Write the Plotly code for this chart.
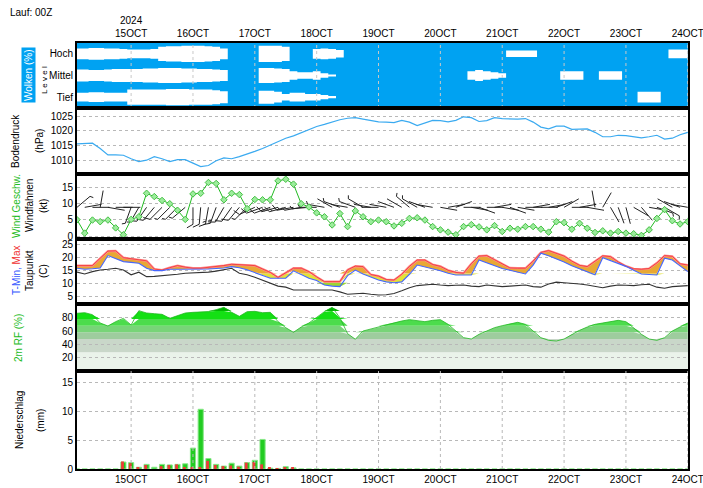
import numpy as np
import pandas as pd
import plotly.graph_objects as go

# ---------------- data ----------------
times = pd.date_range("2024-10-14 03:00", "2024-10-24 00:00", freq="3h")
day_ticks = pd.date_range("2024-10-15", "2024-10-24", freq="D")
day_names = ["15OCT", "16OCT", "17OCT", "18OCT", "19OCT", "20OCT", "21OCT", "22OCT", "23OCT", "24OCT"]
year_label = "2024"
run_label = "Lauf: 00Z"

# cloud cover (%) per layer
cloud_high = [50, 50, 45, 45, 50, 50, 55, 60, 60, 60,
              55, 35, 30, 30, 25, 25, 25, 30, 35, 50,
              100, 100, 100, 100, 25, 25, 25, 35, 100, 100,
              100, 55, 50, 55, 65, 100, 100, 100, 100, 100,
              100, 100, 100, 100, 100, 100, 100, 100, 100, 100,
              100, 100, 100, 100, 100, 100, 70, 70, 70, 70,
              100, 100, 100, 100, 100, 100, 100, 100, 100, 100,
              100, 100, 100, 100, 100, 100, 100, 60, 60, 60]
cloud_mid = [45, 45, 50, 50, 45, 40, 40, 40, 40, 35,
             35, 30, 30, 30, 35, 35, 40, 40, 45, 50,
             100, 100, 100, 100, 30, 30, 35, 40, 60, 70,
             70, 60, 80, 90, 100, 100, 100, 100, 100, 100,
             100, 100, 100, 100, 100, 100, 100, 100, 100, 100,
             100, 60, 50, 60, 70, 80, 100, 100, 100, 100,
             100, 100, 100, 60, 60, 60, 100, 100, 60, 60,
             60, 100, 100, 100, 100, 100, 100, 100, 100, 100]
cloud_low = [60, 60, 55, 55, 60, 60, 60, 30, 30, 30,
             30, 30, 25, 25, 25, 30, 30, 30, 35, 45,
             100, 100, 100, 100, 40, 40, 50, 70, 60, 60,
             70, 70, 80, 90, 100, 100, 100, 100, 100, 100,
             100, 100, 100, 100, 100, 100, 100, 100, 100, 100,
             100, 100, 100, 100, 100, 100, 100, 100, 100, 100,
             100, 100, 100, 100, 100, 100, 100, 100, 100, 100,
             100, 100, 100, 50, 50, 50, 100, 100, 100, 100]

pressure = [1015.6, 1015.6, 1015.8, 1014.0, 1011.8, 1011.8, 1011.7, 1010.5, 1009.5, 1010.0,
            1011.2, 1010.5, 1009.5, 1010.2, 1010.2, 1009.0, 1007.8, 1008.2, 1009.8, 1010.8,
            1010.5, 1011.2, 1012.0, 1013.0, 1014.0, 1015.2, 1016.5, 1017.5, 1018.3, 1019.3,
            1020.5, 1021.5, 1022.2, 1023.0, 1023.8, 1024.3, 1024.5, 1024.0, 1023.5, 1023.1,
            1023.0, 1022.8, 1023.6, 1023.0, 1021.8, 1022.8, 1023.6, 1023.5, 1023.1, 1023.6,
            1024.8, 1024.5, 1023.2, 1023.5, 1024.5, 1024.2, 1024.0, 1024.0, 1024.2, 1023.0,
            1021.3, 1020.7, 1021.6, 1021.6, 1020.5, 1020.5, 1020.7, 1019.5, 1018.0, 1018.0,
            1018.5, 1018.4, 1018.0, 1017.6, 1018.0, 1018.5, 1017.2, 1017.5, 1018.7, 1019.5]

wind_speed = [5.0, 0.9, 4.9, 4.4, 4.9, 2.5, 0.4, 5.1, 5.9, 13.1,
              12.1, 10.9, 9.9, 7.9, 5.1, 12.9, 13.1, 16.4, 16.1, 11.1,
              13.1, 12.7, 8.4, 11.2, 11.1, 11.1, 16.9, 17.4, 15.9, 9.9,
              8.9, 7.1, 5.9, 3.4, 6.9, 2.9, 7.7, 5.9, 4.4, 4.9,
              4.4, 3.1, 3.9, 5.4, 5.6, 4.9, 2.9, 1.9, 1.2, 0.4,
              2.9, 3.5, 2.8, 1.9, 3.2, 1.4, 2.4, 2.1, 2.9, 2.9,
              2.1, 1.2, 4.4, 4.1, 2.1, 3.9, 2.4, 1.1, 1.6, 0.9,
              1.4, 0.9, 0.7, 0.2, 1.9, 5.4, 8.1, 4.7, 3.7, 4.4]
wind_dir = [50, 80, 90, 10, 100, 90, 90, 200, 210, 215,
            220, 225, 225, 225, 230, 180, 185, 190, 200, 210,
            215, 220, 225, 245, 250, 250, 255, 255, 260, 260,
            265, 270, 280, 300, 290, 280, 290, 300, 280, 270,
            280, 290, 300, 310, 300, 290, 280, 100, 80, 70,
            90, 100, 110, 90, 80, 100, 110, 100, 90, 80,
            90, 80, 70, 60, 90, 80, 100, 350, 30, 150,
            160, 165, 120, 140, 100, 110, 120, 300, 290, 280]

t_max = [16.8, 16.8, 16.8, 19.6, 22.3, 22.4, 19.8, 19.4, 18.9, 18.6,
         15.5, 15.1, 16.0, 16.8, 16.2, 15.8, 15.8, 16.1, 16.4, 16.8,
         17.3, 17.2, 17.1, 16.8, 15.5, 14.2, 12.3, 14.0, 15.8, 15.8,
         14.5, 12.5, 10.7, 10.7, 10.7, 15.2, 16.6, 16.4, 13.4, 12.8,
         11.5, 11.3, 13.5, 16.5, 18.9, 18.9, 17.2, 16.5, 15.0, 14.2,
         13.9, 17.5, 20.4, 20.6, 19.0, 17.6, 15.9, 15.8, 15.8, 18.5,
         21.8, 22.5, 21.3, 20.4, 18.5, 16.9, 16.4, 18.5, 20.5, 20.2,
         18.2, 16.6, 15.6, 15.4, 15.7, 17.8, 20.6, 20.3, 17.5, 17.0]
t_min = [15.8, 15.4, 15.6, 15.9, 20.6, 19.5, 18.3, 18.0, 17.7, 15.8,
         14.9, 14.9, 15.4, 15.4, 15.4, 15.4, 15.4, 15.5, 15.7, 15.9,
         16.4, 16.0, 15.2, 14.2, 13.2, 12.0, 12.0, 12.0, 14.8, 13.5,
         12.0, 11.1, 9.4, 9.0, 8.8, 13.0, 15.1, 13.6, 12.4, 11.3,
         10.6, 10.3, 10.6, 13.5, 17.0, 16.3, 15.7, 14.8, 13.9, 13.2,
         13.2, 13.2, 18.9, 17.8, 16.7, 15.7, 15.0, 14.2, 13.6, 17.0,
         21.5, 20.5, 19.5, 18.2, 16.7, 15.5, 14.3, 13.3, 19.8, 18.8,
         17.8, 16.5, 15.0, 13.6, 13.4, 13.2, 19.6, 18.9, 16.7, 14.5]
dew_point = [14.3, 13.6, 14.5, 15.1, 15.4, 15.8, 15.1, 13.3, 14.3, 12.6,
             12.7, 12.9, 13.2, 13.5, 13.9, 14.0, 14.1, 14.3, 14.7, 15.2,
             15.8, 13.9, 13.3, 12.4, 11.2, 10.0, 9.0, 8.6, 7.5, 7.5,
             7.5, 7.4, 7.4, 7.5, 6.8, 5.9, 6.1, 6.3, 5.9, 5.6,
             5.7, 6.2, 7.2, 8.4, 9.2, 9.5, 9.7, 9.4, 9.2, 9.3,
             9.4, 9.0, 8.8, 9.4, 9.1, 8.8, 9.0, 9.3, 9.4, 8.8,
             8.6, 9.8, 10.5, 10.3, 10.1, 9.8, 9.4, 9.0, 8.4, 9.0,
             9.4, 9.3, 9.2, 9.5, 9.7, 8.6, 8.2, 8.8, 9.0, 9.2]

rel_hum = [86.6, 87.5, 84.5, 72, 67.5, 74, 79, 69, 90.5, 87,
           86, 85, 79, 83, 87, 88, 89, 89, 92, 95.5,
           88, 82, 89, 89.5, 87.5, 88, 74, 65, 58, 66,
           72, 80, 89, 95.5, 80, 56, 47.6, 60, 63, 66,
           70, 73, 75, 77, 76, 74, 76, 77, 70, 60,
           50, 48, 55, 60, 65, 68, 71, 73, 70, 60,
           50, 46, 45, 48, 55, 61, 66, 70, 72, 74,
           76, 74, 65, 55, 48, 46, 50, 60, 66, 72]

precip_total = [0, 0, 0, 0, 0, 0, 1.2, 1.1, 0.3, 0.8,
                0.3, 0.8, 0.7, 0.8, 0.9, 3.6, 10.3, 1.8, 0.8, 0.5,
                1.0, 0.5, 1.1, 1.5, 5.1, 0.15, 0.1, 0.4, 0.2, 0,
                0, 0, 0, 0, 0, 0, 0, 0, 0, 0,
                0, 0, 0, 0, 0, 0, 0, 0, 0, 0,
                0, 0, 0, 0, 0, 0, 0, 0, 0, 0,
                0, 0, 0, 0, 0, 0, 0, 0, 0, 0,
                0, 0, 0, 0, 0, 0, 0, 0, 0, 0]
precip_conv = [0, 0, 0, 0, 0, 0, 1.3, 1.0, 0.3, 0.7,
               0, 0.5, 0.7, 0.8, 0.3, 0.2, 0.3, 1.4, 0.7, 0.5,
               0.6, 0.4, 1.1, 1.2, 0.8, 0.2, 0.1, 0.2, 0.3, 0,
               0, 0, 0, 0, 0, 0, 0, 0, 0, 0,
               0, 0, 0, 0, 0, 0, 0, 0, 0, 0,
               0, 0, 0, 0, 0, 0, 0, 0, 0, 0,
               0, 0, 0, 0, 0, 0, 0, 0, 0, 0,
               0, 0, 0, 0, 0, 0, 0, 0, 0, 0]

# ---------------- layout geometry ----------------
W, H = 703, 488
PX_L, PX_R = 77, 688
P = {"cloud": (43, 108), "press": (108, 174), "wind": (174, 239),
     "temp": (239, 304), "rh": (304, 371), "prec": (371, 469)}
RANGES = {"cloud": [0, 3], "press": [1005.3, 1027.8], "wind": [-0.9, 19.0],
          "temp": [2.2, 26.9], "rh": [0, 100.5], "prec": [0, 16.9]}
AX = {"cloud": ("x", "y"), "press": ("x2", "y2"), "wind": ("x3", "y3"),
      "temp": ("x4", "y4"), "rh": ("x5", "y5"), "prec": ("x6", "y6")}


def ydom(name):
    top, bot = P[name]
    return [1 - bot / H, 1 - top / H]


FONT = "Liberation Sans, Arial, sans-serif"
fig = go.Figure()


def add(trace, name):
    xa, ya = AX[name]
    trace.update(xaxis=xa, yaxis=ya, showlegend=False, hoverinfo="skip")
    fig.add_trace(trace)


def day_lines(name, color):
    lo, hi = RANGES[name]
    gx, gy = [], []
    for d in day_ticks:
        gx += [d, d, None]
        gy += [lo, hi, None]
    add(go.Scatter(x=gx, y=gy, mode="lines", line=dict(color=color, width=1, dash="dot")), name)


# ---------------- clouds ----------------
BLUE = "#00A2F2"
add(go.Scatter(x=[times[0], times[-1]], y=[3, 3], mode="lines", line=dict(width=0),
               fill="tozeroy", fillcolor=BLUE), "cloud")
for k, cov in enumerate([cloud_low, cloud_mid, cloud_high]):
    c = k + 0.5
    half = (1 - np.array(cov) / 100.0) / 2
    add(go.Scatter(x=times, y=c - half, mode="lines", line=dict(width=0, shape="hvh")), "cloud")
    add(go.Scatter(x=times, y=c + half, mode="lines", line=dict(width=0, shape="hvh"),
                   fill="tonexty", fillcolor="white"), "cloud")
day_lines("cloud", "#C8C8C8")

# ---------------- pressure ----------------
add(go.Scatter(x=times, y=pressure, mode="lines", line=dict(color="#3AAAF0", width=1.2)), "press")

# ---------------- wind ----------------
hours_span = (times[-1] - times[0]).total_seconds() / 3600
px_per_h = (PX_R - PX_L) / hours_span
px_per_kt = (P["wind"][1] - P["wind"][0]) / (RANGES["wind"][1] - RANGES["wind"][0])
BARB_LEVEL = 8.8
STAFF = 17
bx, by = [], []
for t, d, s in zip(times, wind_dir, wind_speed):
    def pt(px, py):
        return t + pd.Timedelta(hours=px / px_per_h), BARB_LEVEL + py / px_per_kt
    r = np.radians(d)
    ux, uy = np.sin(r), np.cos(r)
    p0 = pt(0, 0)
    p1 = pt(STAFF * ux, STAFF * uy)
    bx += [p0[0], p1[0], None]
    by += [p0[1], p1[1], None]
    fr = np.radians(d + 60)
    fx, fy = np.sin(fr), np.cos(fr)
    n_full = int(s // 10)
    n_half = 1 if (s % 10) >= 5 else 0
    pos = STAFF
    for j in range(n_full + n_half):
        ln = 7 if j < n_full else 3.5
        sx, sy = pos * ux, pos * uy
        a = pt(sx, sy)
        b = pt(sx + ln * fx, sy + ln * fy)
        bx += [a[0], b[0], None]
        by += [a[1], b[1], None]
        pos -= 3
add(go.Scatter(x=bx, y=by, mode="lines", line=dict(color="#222222", width=1)), "wind")
add(go.Scatter(x=times, y=wind_speed, mode="lines+markers",
               line=dict(color="#22BB22", width=1),
               marker=dict(symbol="diamond", size=5, color="#9CEC9C",
                           line=dict(color="#44C044", width=1))), "wind")

# ---------------- temperature ----------------
tmin_a = np.array(t_min)
tmax_a = np.array(t_max)
for a, b, col in [(-50, 10.3, "#9CD634"), (10.3, 13.8, "#E2E236"), (13.8, 60, "#E8A834")]:
    add(go.Scatter(x=times, y=np.clip(tmin_a, a, b), mode="lines", line=dict(width=0)), "temp")
    add(go.Scatter(x=times, y=np.clip(tmax_a, a, b), mode="lines", line=dict(width=0),
                   fill="tonexty", fillcolor=col), "temp")
add(go.Scatter(x=times, y=t_max, mode="lines", line=dict(color="#FF8C8C", width=2.2)), "temp")
add(go.Scatter(x=times, y=t_max, mode="lines", line=dict(color="#F03030", width=0.8)), "temp")
add(go.Scatter(x=times, y=dew_point, mode="lines", line=dict(color="#333333", width=1.1)), "temp")
add(go.Scatter(x=times, y=t_min, mode="lines", line=dict(color="#4466FF", width=1.1)), "temp")

# ---------------- relative humidity ----------------
rh_a = np.array(rel_hum, dtype=float)
for a, b, col in [(48, 58, "#9ECC9E"), (58, 68, "#78D478"), (68, 78, "#4CDC4C"),
                  (78, 90, "#14E014"), (90, 101, "#00B400")]:
    add(go.Scatter(x=times, y=np.full(len(times), float(a)), mode="lines", line=dict(width=0)), "rh")
    add(go.Scatter(x=times, y=np.clip(rh_a, a, b), mode="lines", line=dict(width=0),
                   fill="tonexty", fillcolor=col), "rh")
add(go.Scatter(x=times, y=rel_hum, mode="lines", line=dict(color="#22B822", width=0.8)), "rh")

# ---------------- precipitation ----------------
day_lines("prec", "#B8B8B8")
ms_h = 3600 * 1000
add(go.Bar(x=times, y=precip_total, width=2.0 * ms_h, marker=dict(color="#22CC22",
           line=dict(color="#88E888", width=1))), "prec")
add(go.Bar(x=times, y=precip_conv, width=1.1 * ms_h, offset=-0.9 * ms_h,
           marker=dict(color="#EE3A3A", line=dict(width=0))), "prec")

# ---------------- axes ----------------
layout = dict(width=W, height=H, margin=dict(l=0, r=0, t=0, b=0, autoexpand=False),
              template="none",
              paper_bgcolor="white", plot_bgcolor="white", barmode="overlay",
              font=dict(family=FONT, size=10, color="black"), showlegend=False)

x_range = [times[0], times[-1] + pd.Timedelta(minutes=5)]
for name, (xa, ya) in AX.items():
    xkey = "xaxis" if xa == "x" else "xaxis" + xa[1:]
    ykey = "yaxis" if ya == "y" else "yaxis" + ya[1:]
    xd = dict(domain=[PX_L / W, PX_R / W], range=x_range, anchor=ya, type="date",
              tickmode="array", tickvals=[], showline=True, mirror=True,
              linecolor="black", automargin=False, ticklabeloverflow="allow",
              linewidth=2, showgrid=False,
              zeroline=False, showticklabels=False, ticks="")
    yd = dict(domain=ydom(name), range=RANGES[name], anchor=xa, showline=True, mirror=True,
              linecolor="black", linewidth=2, zeroline=False, ticks="", automargin=False,
              showgrid=True, gridcolor="#B8B8B8", griddash="dot", gridwidth=1,
              tickfont=dict(size=10))
    layout[xkey] = xd
    layout[ykey] = yd

layout["xaxis"].update(side="top", showticklabels=True, tickvals=list(day_ticks),
                       ticktext=[year_label + "<br>" + day_names[0]] + day_names[1:],
                       tickfont=dict(size=10))
layout["xaxis6"].update(showticklabels=True, tickvals=list(day_ticks),
                        ticktext=[day_names[0] + "<br>" + year_label] + day_names[1:],
                        tickfont=dict(size=10))
layout["yaxis"].update(tickvals=[0.5, 1.5, 2.5], ticktext=["Tief", "Mittel", "Hoch"], showgrid=False)
layout["yaxis2"].update(tickvals=[1010, 1015, 1020, 1025])
layout["yaxis3"].update(tickvals=[0, 5, 10, 15])
layout["yaxis4"].update(tickvals=[5, 10, 15, 20, 25])
layout["yaxis5"].update(tickvals=[20, 40, 60, 80])
layout["yaxis6"].update(tickvals=[0, 5, 10, 15])

shapes = []
for a, b, col in [(0, 28, "#EAF3EA"), (28, 48, "#C9D7C9")]:
    shapes.append(dict(type="rect", xref="x5 domain", yref="y5", x0=0, x1=1, y0=a, y1=b,
                       fillcolor=col, line=dict(width=0), layer="below"))
layout["shapes"] = shapes


def px2paper(px, py):
    return px / W, 1 - py / H


ann = []


def label(text, px, py, color="black", size=10, angle=-90, **kw):
    x, y = px2paper(px, py)
    d = dict(text=text, x=x, y=y, xref="paper", yref="paper", showarrow=False,
             textangle=angle, font=dict(size=size, color=color, family=FONT),
             xanchor="center", yanchor="middle")
    d.update(kw)
    ann.append(d)


label(run_label, 8, 12, angle=0, xanchor="left", size=10)
label("Wolken (%)", 29, 75, color="white", bgcolor=BLUE, borderpad=1)
label("L e v e l", 45, 80, size=8)
label("Bodendruck", 16, 141)
label("(hPa)", 40, 141)
label("Wind Geschw.", 16, 206, color="#22BB22")
label("Windfahnen", 29, 206)
label("(kt)", 43, 206)
label("<span style='color:#3355FF'>T-Min,</span> <span style='color:#F03030'>Max</span>", 16, 271)
label("Taupunkt", 29, 271)
label("(C)", 43, 271)
label("2m RF (%)", 18, 338, color="#22BB22")
label("Niederschlag", 19, 420)
label("(mm)", 40, 421)
layout["annotations"] = ann

fig.update_layout(**layout)
fig.write_html("out.html", config={"displayModeBar": False},
               post_script="document.body.style.margin='0';document.body.style.overflow='hidden';")
